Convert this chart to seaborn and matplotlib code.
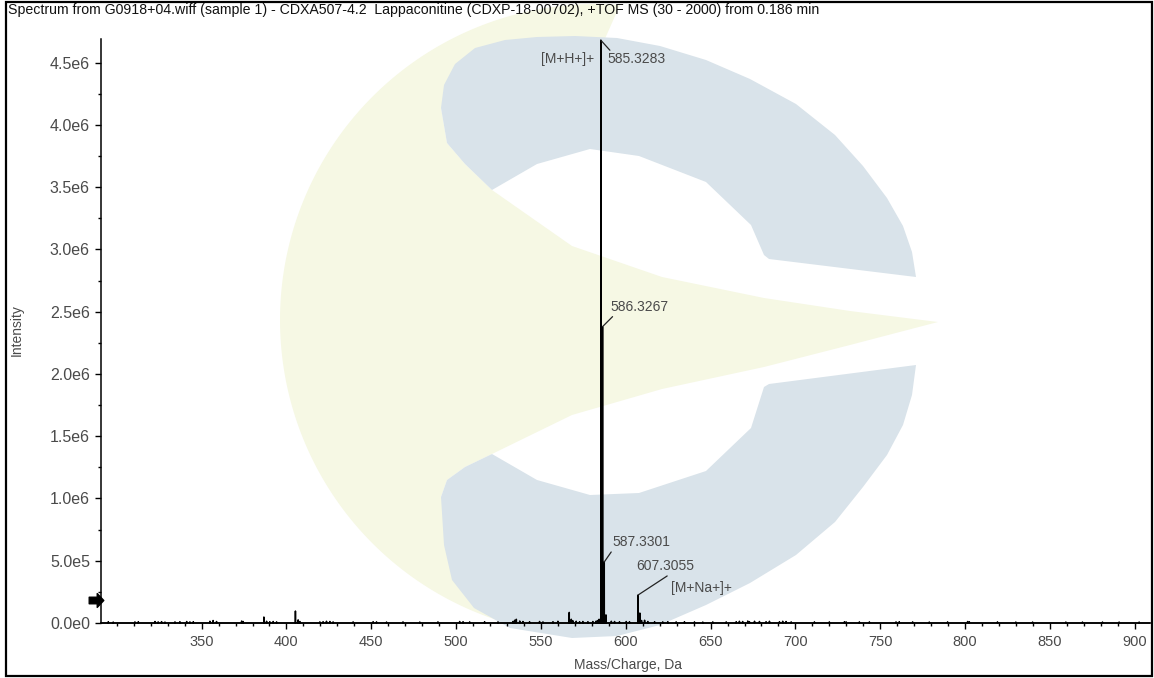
import numpy as np
import pandas as pd
import matplotlib
matplotlib.use("Agg")
import matplotlib.pyplot as plt
import seaborn as sns
from matplotlib.path import Path
from matplotlib.patches import Polygon, Rectangle
from matplotlib.ticker import MultipleLocator

# ---------------- data ----------------
title = ("Spectrum from G0918+04.wiff (sample 1) - CDXA507-4.2  Lappaconitine "
         "(CDXP-18-00702), +TOF MS (30 - 2000) from 0.186 min")

peak_mz = [386.7, 405.3, 566.7, 584.3, 585.3283, 586.3267, 587.3301, 588.33,
           607.3055, 608.31, 609.3]
peak_int = [48e3, 96e3, 85e3, 30e3, 4.68e6, 2.38e6, 0.49e6, 0.065e6,
            0.225e6, 0.08e6, 0.02e6]

noise_mz = [295.0, 297.9, 310.7, 312.7, 322.5, 324.4, 326.4, 328.4, 334.3, 337.2,
            341.2, 343.1, 345.1, 354.9, 356.8, 358.8, 373.6, 374.5, 388.3, 390.2,
            392.2, 394.2, 406.9, 407.9, 419.7, 421.6, 423.6, 425.6, 427.5, 439.3,
            451.1, 453.1, 459.0, 468.7, 478.6, 489.3, 502.1, 504.1, 508.0, 516.8,
            524.7, 533.5, 534.5, 535.5, 537.5, 539.4, 543.3, 549.2, 551.2, 557.1,
            560.0, 567.9, 568.8, 570.8, 572.8, 574.7, 577.7, 580.6, 582.6, 583.6,
            591.5, 593.4, 596.3, 600.3, 602.2, 611.1, 613.0, 617.0, 621.8, 624.8,
            629.7, 634.6, 640.5, 645.4, 651.3, 659.2, 665.1, 667.0, 668.9, 671.9,
            672.9, 675.9, 678.8, 682.7, 684.7, 690.6, 692.5, 694.5, 697.5, 711.2,
            720.0, 728.9, 729.9, 737.7, 743.6, 759.3, 761.2, 769.1, 778.9, 789.7,
            801.5, 802.5, 819.1, 829.9, 839.8, 859.4, 869.2, 881.0, 890.8, 902.6]
noise_int = [10e3, 8e3, 9e3, 10e3, 12e3, 9e3, 11e3, 8e3, 9e3, 10e3,
             12e3, 9e3, 10e3, 14e3, 20e3, 12e3, 16e3, 12e3, 14e3, 10e3,
             12e3, 9e3, 25e3, 12e3, 9e3, 10e3, 14e3, 12e3, 9e3, 9e3,
             10e3, 9e3, 8e3, 9e3, 8e3, 9e3, 12e3, 10e3, 9e3, 10e3,
             9e3, 12e3, 22e3, 30e3, 16e3, 12e3, 10e3, 12e3, 9e3, 10e3,
             14e3, 30e3, 18e3, 14e3, 10e3, 12e3, 10e3, 12e3, 16e3, 20e3,
             14e3, 12e3, 10e3, 12e3, 10e3, 22e3, 12e3, 10e3, 9e3, 10e3,
             9e3, 10e3, 9e3, 8e3, 9e3, 9e3, 10e3, 14e3, 12e3, 16e3,
             10e3, 14e3, 12e3, 10e3, 14e3, 10e3, 14e3, 12e3, 9e3, 9e3,
             9e3, 10e3, 9e3, 9e3, 9e3, 9e3, 10e3, 9e3, 8e3, 9e3,
             12e3, 10e3, 9e3, 8e3, 8e3, 8e3, 8e3, 8e3, 8e3, 8e3]

label_mz = [585.3283, 586.3267, 587.3301, 607.3055]
label_int = [4.68e6, 2.38e6, 0.49e6, 0.225e6]
label_text = ["585.3283", "586.3267", "587.3301", "607.3055"]
ion_mz = [585.3283, 607.3055]
ion_int = [4.68e6, 0.225e6]
ion_text = ["[M+H+]+", "[M+Na+]+"]

x_ticks = [350, 400, 450, 500, 550, 600, 650, 700, 750, 800, 850, 900]
y_ticks = [0, 0.5e6, 1.0e6, 1.5e6, 2.0e6, 2.5e6, 3.0e6, 3.5e6, 4.0e6, 4.5e6]
y_tick_labels = ["0.0e0", "5.0e5", "1.0e6", "1.5e6", "2.0e6", "2.5e6",
                 "3.0e6", "3.5e6", "4.0e6", "4.5e6"]
threshold = 0.185e6

# ---------------- style ----------------
sns.set_style("ticks")
plt.rcParams["font.family"] = ["Liberation Sans", "DejaVu Sans"]
TXT = "#4a4a4a"

W, H = 1154, 678
fig = plt.figure(figsize=(W / 100, H / 100), dpi=100)

# ---------------- watermark (background decoration) ----------------
bg = fig.add_axes([0, 0, 1, 1], zorder=0)
bg.set_xlim(0, W)
bg.set_ylim(H, 0)
bg.axis("off")
YEL = "#f6f8e4"
BLU = "#d9e3ea"
cx, cy, r = 596, 320, 316
t = np.linspace(-1.495, -4.788, 200)
arc = np.column_stack([cx + r * np.cos(t), cy + r * np.sin(t)])
upper_tongue = [(938, 322), (850, 311), (764, 298), (662, 277), (572, 246),
                (492, 190), (465, 164), (447, 143), (441, 108), (520, 70), (600, 50)]
lower_tongue = [(600, 625), (520, 600), (441, 497), (447, 480), (465, 467),
                (492, 454), (572, 415), (662, 389), (764, 367), (850, 345)]
yellow = np.vstack([upper_tongue, arc, lower_tongue])
bg.add_patch(Polygon(yellow, closed=True, facecolor=YEL, edgecolor="none"))
blue_up = [(441, 108), (444, 85), (455, 64), (475, 48), (505, 40), (537, 37), (575, 36),
           (617, 38), (660, 46), (706, 60), (750, 79), (796, 104), (835, 135),
           (863, 166), (887, 198), (903, 226), (912, 252), (916, 277), (769, 259),
           (764, 255), (751, 225), (706, 182), (639, 156), (590, 149), (537, 164),
           (492, 190), (465, 164), (447, 143)]
blue_lo = [(441, 497), (444, 545), (452, 580), (474, 608), (510, 628), (572, 638),
           (617, 636), (660, 625), (706, 605), (750, 583), (796, 555), (835, 522),
           (863, 487), (887, 455), (903, 425), (912, 395), (916, 365), (769, 384),
           (764, 387), (751, 428), (706, 471), (639, 493), (590, 495), (537, 480),
           (492, 454), (465, 467), (447, 480)]
bg.add_patch(Polygon(blue_up, closed=True, facecolor=BLU, edgecolor="none"))
bg.add_patch(Polygon(blue_lo, closed=True, facecolor=BLU, edgecolor="none"))

# ---------------- main axes ----------------
ax = fig.add_axes([101 / W, 1 - 623 / H, (1150 - 101) / W, (623 - 39) / H], zorder=1)
ax.patch.set_alpha(0)

all_mz = np.array(peak_mz + noise_mz)
all_int = np.array(peak_int + noise_int)
order = np.argsort(all_mz)
px, py = [290.7], [0.0]
for m, h in zip(all_mz[order], all_int[order]):
    px += [m - 0.04, m, m + 0.04]
    py += [0.0, h, 0.0]
px.append(909.0)
py.append(0.0)
spec = pd.DataFrame({"mz": px, "intensity": py})
sns.lineplot(data=spec, x="mz", y="intensity", ax=ax, color="black", lw=1.1,
             estimator=None, sort=False, clip_on=False)

ax.set_xlim(290.7, 909.0)
ax.set_ylim(0, 4.69e6)
ax.set_xticks(x_ticks)
ax.set_xticklabels([str(v) for v in x_ticks])
ax.set_yticks(y_ticks)
ax.set_yticklabels(y_tick_labels)
ax.xaxis.set_minor_locator(MultipleLocator(10))
ax.yaxis.set_minor_locator(MultipleLocator(0.25e6))
ax.tick_params(which="major", length=4, width=1, color="black", labelcolor=TXT)
ax.tick_params(which="minor", length=2.2, width=1, color="black")
ax.tick_params(axis="x", which="major", labelsize=10.5, pad=5)
ax.tick_params(axis="y", which="major", labelsize=11.5, pad=4)
sns.despine(ax=ax)
for s in ["left", "bottom"]:
    ax.spines[s].set_linewidth(1.1)
    ax.spines[s].set_color("black")
ax.set_xlabel("")
ax.set_ylabel("")

# threshold arrow marker
arrow = Path([(-1, -0.45), (0.1, -0.45), (0.1, -0.95), (1, 0), (0.1, 0.95),
              (0.1, 0.45), (-1, 0.45), (-1, -0.45)],
             [Path.MOVETO] + [Path.LINETO] * 6 + [Path.CLOSEPOLY])
ax.plot([288.0], [threshold], marker=arrow, markersize=10.5, color="black",
        clip_on=False, linestyle="none")

# ---------------- peak annotations ----------------
lead = {585.3283: (6.5, -7.2), 586.3267: (7.2, 7.2), 587.3301: (5.0, 7.2),
        607.3055: (20.9, 13.7)}
txt_off = {585.3283: (5.0, -13.7), 586.3267: (5.8, 14.4), 587.3301: (5.8, 14.4),
           607.3055: (-1.4, 20.9)}
for m, h, s in zip(label_mz, label_int, label_text):
    ax.annotate("", xy=(m, h), xytext=lead[m], textcoords="offset points",
                arrowprops=dict(arrowstyle="-", color="#222222", lw=0.9,
                                shrinkA=0, shrinkB=0))
    ax.annotate(s, xy=(m, h), xytext=txt_off[m], textcoords="offset points",
                ha="left", va="center", fontsize=10, color=TXT)
ion_off = {585.3283: ((-5.0, -13.7), "right"), 607.3055: ((23.8, 5.0), "left")}
for m, h, s in zip(ion_mz, ion_int, ion_text):
    off, ha = ion_off[m]
    ax.annotate(s, xy=(m, h), xytext=off, textcoords="offset points",
                ha=ha, va="center", fontsize=10, color=TXT)

# ---------------- texts ----------------
fig.text(8 / W, 1 - 10 / H, title, ha="left", va="center", fontsize=10.2, color="#111111")
fig.text(17 / W, 1 - 330 / H, "Intensity", rotation=90, ha="center", va="center",
         fontsize=10, color=TXT)
fig.text(628 / W, 1 - 665 / H, "Mass/Charge, Da", ha="center", va="center",
         fontsize=10, color=TXT)

# figure border
fig.patches.append(Rectangle((5.5 / W, 1 - 676 / H), (1151.5 - 5.5) / W, (676 - 1.5) / H,
                             transform=fig.transFigure, fill=False,
                             edgecolor="black", lw=1.6, zorder=5))

fig.savefig("out.png", dpi=100)
